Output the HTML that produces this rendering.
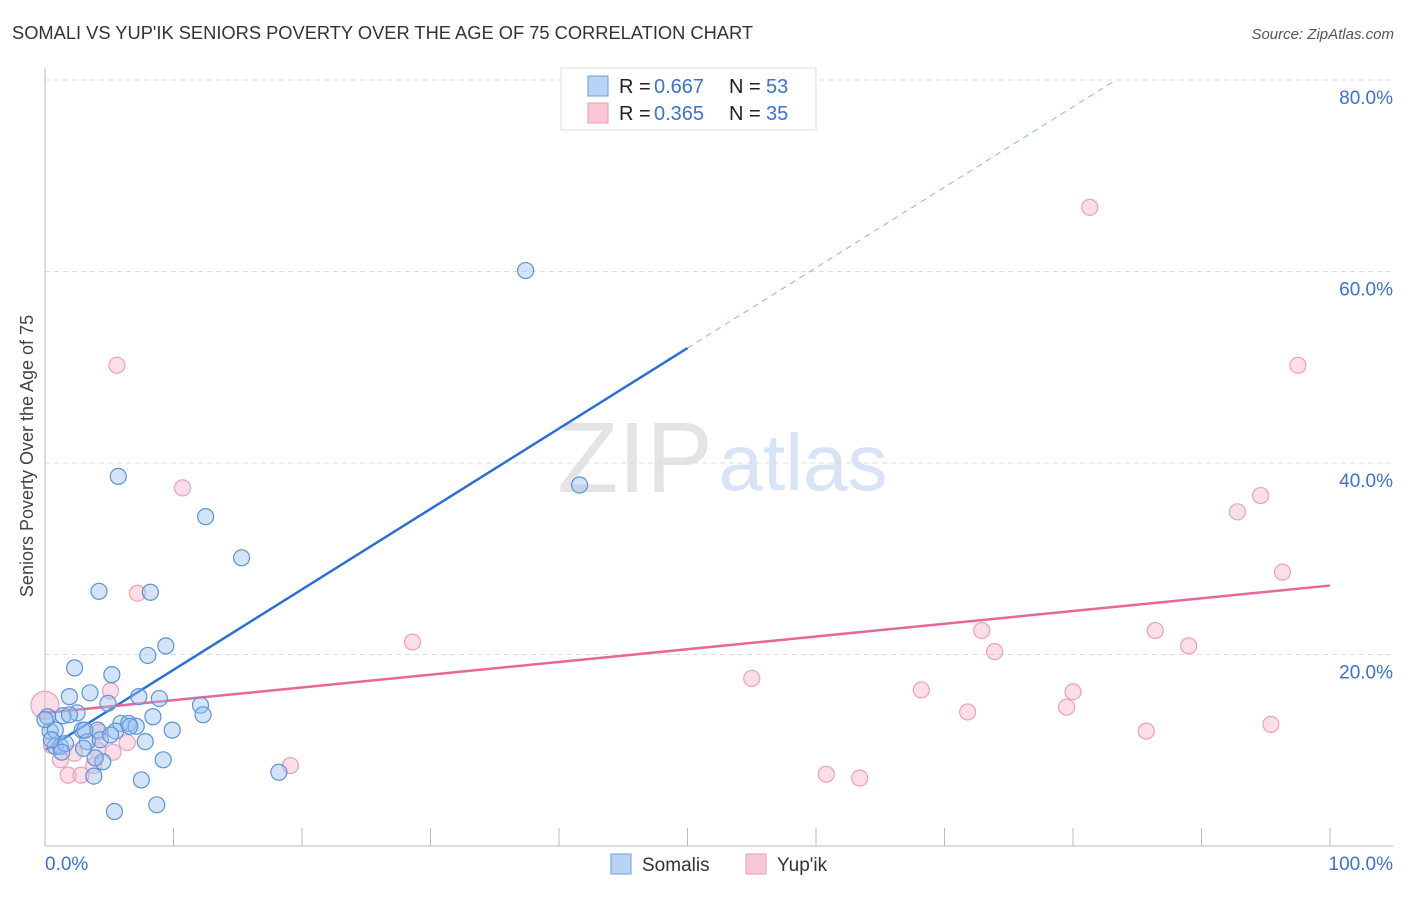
<!DOCTYPE html>
<html><head><meta charset="utf-8"><style>
body{margin:0;background:#fff;font-family:"Liberation Sans",sans-serif;}
svg text{font-family:"Liberation Sans",sans-serif;}
</style></head><body>
<svg id="chart" width="1406" height="892">
<text x="12" y="39" font-size="18.3" fill="#333">SOMALI VS YUP'IK SENIORS POVERTY OVER THE AGE OF 75 CORRELATION CHART</text>
<text x="1394" y="39" font-size="15" fill="#555" font-style="italic" text-anchor="end">Source: ZipAtlas.com</text>
<text x="33" y="456" font-size="18" fill="#444" text-anchor="middle" transform="rotate(-90 33 456)">Seniors Poverty Over the Age of 75</text>
<g><text x="635" y="492" font-size="100" fill="#e4e4e4" font-family="Liberation Serif" text-anchor="middle">ZIP</text><text x="803" y="490" font-size="80" fill="#d6e4f5" text-anchor="middle">atlas</text></g>
<g id="grid"></g><g id="axes"></g><g id="trend"></g><g id="pts"></g>
<g>
<rect x="561" y="68" width="255" height="62" fill="#fff" stroke="#ddd"/>
<rect x="588" y="76" width="20" height="20" fill="#b8d3f5" stroke="#6e9fde"/>
<rect x="588" y="103" width="20" height="20" fill="#f9c6d6" stroke="#ee9ab5"/>
<g font-size="20">
<text x="619" y="93" fill="#222">R =</text><text x="654" y="93" fill="#3a72d0">0.667</text>
<text x="729" y="93" fill="#222">N =</text><text x="766" y="93" fill="#3a72d0">53</text></g>
<g font-size="20">
<text x="619" y="120" fill="#222">R =</text><text x="654" y="120" fill="#3a72d0">0.365</text>
<text x="729" y="120" fill="#222">N =</text><text x="766" y="120" fill="#3a72d0">35</text></g>
</g>
<g>
<rect x="611" y="854" width="20" height="20" fill="#b8d3f5" stroke="#6e9fde"/>
<text x="642" y="871" font-size="19" fill="#333">Somalis</text>
<rect x="746" y="854" width="20" height="20" fill="#f9c6d6" stroke="#ee9ab5"/>
<text x="777" y="871" font-size="19" fill="#333">Yup'ik</text>
</g>
</svg>
<script>
const yTicks=[20,40,60,80];
const yTickLabels=["20.0%","40.0%","60.0%","80.0%"];
const xTicks=[0,10,20,30,40,50,60,70,80,90,100];
const somaliX=[37.4,41.6,5.7,12.5,15.3,4.2,8.2,9.4,8.0,2.3,5.2,3.5,1.9,7.3,8.9,4.9,12.1,12.3,2.5,1.4,8.4,5.9,6.5,7.1,0.4,2.9,0.8,4.1,9.9,5.5,3.3,4.3,7.8,0.8,1.2,3.0,9.2,4.5,3.8,7.5,18.2,8.7,5.4,0.2,0.5,1.6,3.1,5.1,3.9,1.3,6.6,1.9,0];
const somaliY=[60.1,37.7,38.6,34.4,30.1,26.6,26.5,20.9,19.9,18.6,17.9,16.0,15.6,15.6,15.4,14.9,14.7,13.7,13.9,13.6,13.5,12.8,12.8,12.5,12.0,12.1,12.1,12.1,12.1,12.0,10.9,11.1,10.9,10.4,10.4,10.2,9.0,8.8,7.3,6.9,7.7,4.3,3.6,13.5,11.1,10.7,12.1,11.6,9.2,9.8,12.5,13.7,13.2];
const yupikX=[81.3,5.6,97.5,10.7,94.6,92.8,96.3,7.2,28.6,72.9,86.4,89.0,73.9,5.1,55.0,68.2,80.0,71.8,79.5,95.4,85.7,60.8,63.4,19.1,4.2,6.4,5.3,2.3,1.2,1.8,2.8,3.8,0,4.1,0.5];
const yupikY=[66.7,50.2,50.2,37.4,36.6,34.9,28.6,26.4,21.3,22.5,22.5,20.9,20.3,16.2,17.5,16.3,16.1,14.0,14.5,12.7,12.0,7.5,7.1,8.4,11.9,10.8,9.8,9.7,9.0,7.4,7.4,8.4,14.7,10.0,10.5];
const somaliTrend=[10.0,0.84];
const yupikTrend=[13.9,0.133];
const NS="http://www.w3.org/2000/svg";
const sx=v=>45+v*12.85, sy=v=>846-v*9.575;
function mk(p,t,a){const e=document.createElementNS(NS,t);for(const k in a)e.setAttribute(k,a[k]);document.getElementById(p).appendChild(e);return e;}
yTicks.forEach((t,i)=>{
 const l=mk('grid','line',{x1:45,x2:1393,y1:sy(t),y2:sy(t),stroke:'#ddd','stroke-dasharray':'5,4'});
 
 
 const tx=mk('grid','text',{x:1393,y:sy(t)+24,'font-size':19,fill:'#3a72d0','text-anchor':'end'});
 tx.textContent=yTickLabels[i];
 
 
});
let a=mk('axes','line',{x1:45,x2:45,y1:68,y2:846,stroke:'#bbb'});


a=mk('axes','line',{x1:45,x2:1393,y1:846,y2:846,stroke:'#bbb'});


xTicks.forEach(t=>{const l=mk('axes','line',{x1:sx(t),x2:sx(t),y1:828,y2:846,stroke:'#bbb'});
 
 });
let t0=mk('axes','text',{x:45,y:870,'font-size':19,fill:'#3a72d0'});t0.textContent='0.0%';


let t1=mk('axes','text',{x:1393,y:870,'font-size':19,fill:'#3a72d0','text-anchor':'end'});t1.textContent='100.0%';


const bf=x=>somaliTrend[0]+somaliTrend[1]*x, pf=x=>yupikTrend[0]+yupikTrend[1]*x;
let xe=(80-somaliTrend[0])/somaliTrend[1];
let tl=mk('trend','line',{x1:sx(0),y1:sy(bf(0)),x2:sx(50),y2:sy(bf(50)),stroke:'#2a6fd6','stroke-width':2.5});


tl=mk('trend','line',{x1:sx(50),y1:sy(bf(50)),x2:sx(xe),y2:sy(80),stroke:'#8fb2e3','stroke-width':1,'stroke-dasharray':'6,5'});


tl=mk('trend','line',{x1:sx(0),y1:sy(pf(0)),x2:sx(100),y2:sy(pf(100)),stroke:'#e8669a','stroke-width':2.5});


yupikX.forEach((x,i)=>{const c=mk('pts','circle',{cx:sx(x),cy:sy(yupikY[i]),r:(x===0?14:8),fill:'rgba(246,172,198,0.4)',stroke:'#ef9fba','stroke-width':1.2});
 
 });
somaliX.forEach((x,i)=>{const c=mk('pts','circle',{cx:sx(x),cy:sy(somaliY[i]),r:8,fill:'rgba(150,190,240,0.42)',stroke:'#5b93d8','stroke-width':1.2});
 
 });
</script>
</body></html>
